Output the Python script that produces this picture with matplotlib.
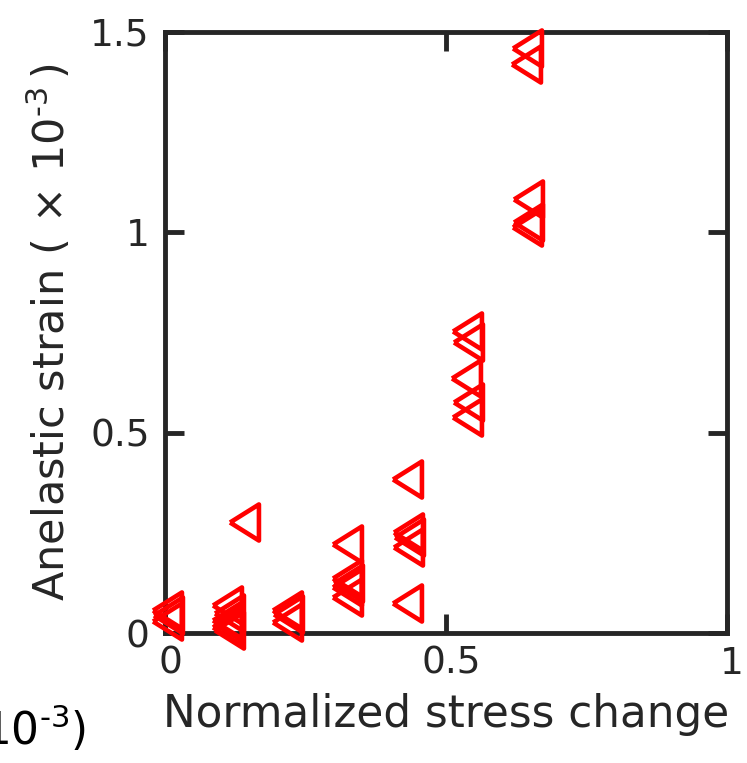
import matplotlib
matplotlib.use("Agg")
import matplotlib.pyplot as plt
import matplotlib.transforms as mtransforms

# Data
stress = [0.004, 0.006, 0.004,
          0.111, 0.113, 0.110, 0.112, 0.111, 0.113,
          0.141,
          0.217, 0.219, 0.217,
          0.323, 0.324, 0.326, 0.323, 0.324,
          0.431, 0.433, 0.434, 0.432, 0.431,
          0.537, 0.539, 0.535, 0.539, 0.537,
          0.645, 0.643, 0.646, 0.646, 0.645]
strain = [0.057, 0.045, 0.030,
          0.070, 0.050, 0.032, 0.025, 0.015, 0.007,
          0.277,
          0.057, 0.047, 0.027,
          0.222, 0.137, 0.125, 0.115, 0.090,
          0.384, 0.252, 0.240, 0.215, 0.075,
          0.754, 0.726, 0.636, 0.576, 0.539,
          1.460, 1.420, 1.083, 1.026, 1.013]
xticks = [0, 0.5, 1]
yticks = [0, 0.5, 1, 1.5]
xtick_labels = ["0", "0.5", "1"]
ytick_labels = ["0", "0.5", "1", "1.5"]

dark = "#262626"
plt.rcParams['font.family'] = ['DejaVu Sans']

fig = plt.figure(figsize=(7.47, 7.63), dpi=100)
ax = fig.add_axes([165/747, 1-633/763, (727-165)/747, (633-32)/763])

tri = [(-0.8, 0.0), (0.8, 1.0), (0.8, -1.0), (-0.8, 0.0)]
ax.plot(stress, strain, linestyle='none', marker=tri, markersize=26,
        markerfacecolor='none', markeredgecolor='#ff0000', markeredgewidth=3.3,
        clip_on=False, zorder=3)

ax.set_xlim(0, 1)
ax.set_ylim(0, 1.5)
ax.set_xticks(xticks)
ax.set_xticklabels(xtick_labels)
ax.set_yticks(yticks)
ax.set_yticklabels(ytick_labels)

for s in ax.spines.values():
    s.set_linewidth(3.5)
    s.set_color(dark)
ax.tick_params(direction='in', length=14, width=3.5, color=dark,
               top=True, right=True, labelsize=27, labelcolor=dark)
ax.tick_params(axis='x', pad=9)
ax.tick_params(axis='y', pad=11)

off = mtransforms.ScaledTranslation(5/100, 0, fig.dpi_scale_trans)
for lab in ax.get_xticklabels():
    lab.set_transform(lab.get_transform() + off)

ax.set_xlabel("Normalized stress change", fontsize=31.5, color=dark, labelpad=8)
ax.set_ylabel(r"Anelastic strain ($\,\times\,$10$^{\text{-3}}$$\,$)", fontsize=31,
              color=dark, labelpad=12)

fig.text(86/747, 1-745/763, r"10$^{\text{-3}}$)", fontsize=31.5, color='black',
         ha='right', va='baseline')

fig.savefig("out.png", dpi=100)
